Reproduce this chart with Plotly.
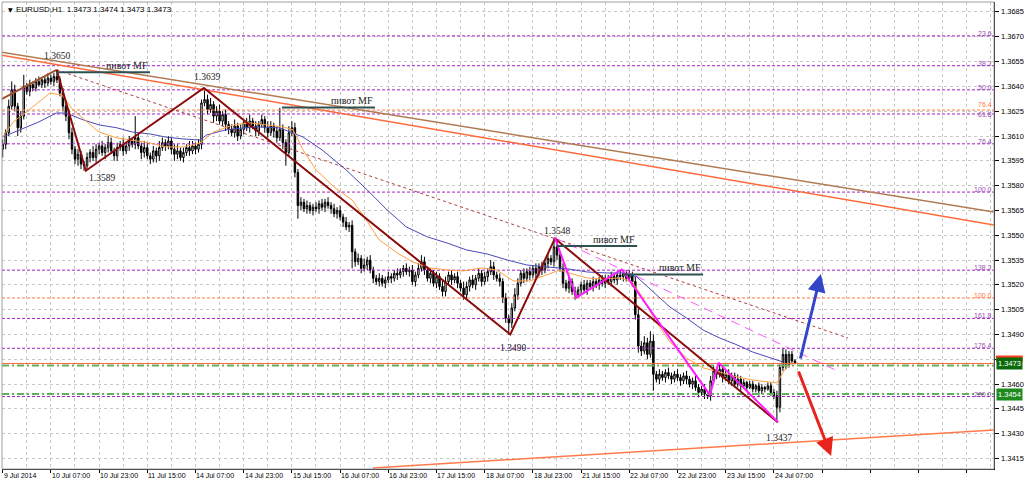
import plotly.graph_objects as go

# ---------------- data (EURUSD H1, prices in pips: 3605 -> 1.3605) ----------------
closes_pips = [
    3605, 3612, 3628, 3638, 3628, 3615, 3622, 3640, 3637, 3641, 3639, 3643, 3641, 3644, 3642, 3645,
    3643, 3646, 3644, 3636, 3628, 3622, 3612, 3602, 3596, 3599, 3593, 3592, 3597, 3600, 3597, 3602,
    3604, 3600, 3603, 3606, 3601, 3598, 3603, 3605, 3601, 3604, 3607, 3605, 3609, 3604, 3600, 3603,
    3598, 3596, 3601, 3598, 3603, 3606, 3604, 3607, 3602, 3599, 3601, 3597, 3600, 3603, 3601, 3604,
    3602, 3605, 3630, 3632, 3626, 3629, 3622, 3625, 3619, 3623, 3617, 3614, 3612, 3616, 3610, 3614,
    3618, 3615, 3619, 3616, 3613, 3617, 3620, 3615, 3612, 3616, 3613, 3609, 3614, 3606, 3600, 3612,
    3615, 3588, 3568, 3570, 3566, 3568, 3565, 3567, 3566, 3569, 3567, 3570, 3568, 3566, 3563, 3565,
    3561, 3558, 3555, 3556, 3540, 3534, 3536, 3530, 3532, 3535, 3529, 3524, 3522, 3524, 3521, 3523,
    3525, 3524, 3527, 3526, 3528, 3530, 3528, 3529, 3522, 3526, 3530, 3534, 3529, 3524, 3527, 3521,
    3525, 3519, 3516, 3522, 3526, 3523, 3525, 3521, 3518, 3514, 3519, 3523, 3520, 3524, 3527, 3522,
    3525, 3528, 3531, 3526, 3524, 3522, 3512, 3500, 3497, 3506, 3514, 3521, 3527, 3524, 3528, 3526,
    3530, 3527, 3531, 3529, 3533, 3536, 3534, 3543, 3538, 3530, 3521, 3518, 3522, 3516, 3514, 3517,
    3520, 3517, 3521, 3519, 3522, 3520, 3523, 3521, 3524, 3522, 3525, 3523, 3526, 3525, 3527, 3524,
    3526, 3522, 3502, 3483, 3480, 3485, 3478, 3486, 3466, 3463, 3466, 3464, 3467, 3465, 3463, 3466,
    3464, 3462, 3465, 3463, 3460, 3462, 3458, 3455, 3457, 3454, 3453, 3462, 3468, 3466, 3469, 3464,
    3466, 3462, 3465, 3460, 3463, 3459, 3461, 3458, 3460, 3457, 3459, 3456, 3458, 3457, 3459, 3455,
    3453, 3446, 3470, 3478, 3472, 3478, 3474, 3473,
]
first_open_pips = 3602
up_wick = [
    3, 2, 4, 5, 3, 2, 3, 7, 2, 3, 2, 2, 3, 1, 2, 3,
    2, 2, 4, 2, 3, 2, 4, 3, 2, 3, 2, 2, 3, 2, 4, 3,
    2, 3, 2, 4, 3, 2, 3, 2, 4, 2, 3, 2, 13, 3, 2, 4,
    3, 2, 3, 2, 4, 3, 2, 3, 2, 3, 4, 2, 3, 2, 4, 3,
    2, 3, 2, 7, 3, 4, 2, 3, 4, 2, 3, 2, 3, 4, 2, 3,
    2, 3, 4, 2, 3, 2, 3, 2, 4, 3, 2, 3, 13, 3, 2, 4,
    4, 3, 2, 3, 2, 3, 2, 2, 3, 2, 3, 2, 3, 2, 3, 2,
    3, 2, 3, 2, 3, 2, 3, 2, 4, 2, 3, 2, 2, 3, 2, 2,
    3, 2, 2, 3, 2, 2, 3, 2, 3, 2, 3, 4, 3, 2, 3, 2,
    3, 2, 4, 3, 2, 3, 2, 3, 2, 4, 3, 2, 3, 2, 3, 2,
    3, 2, 4, 3, 2, 3, 2, 3, 2, 3, 4, 3, 2, 3, 2, 3,
    2, 3, 2, 3, 2, 3, 2, 5, 3, 2, 3, 2, 3, 2, 3, 2,
    2, 3, 2, 2, 3, 2, 2, 3, 2, 2, 3, 2, 2, 3, 2, 2,
    3, 2, 3, 4, 3, 4, 3, 6, 4, 2, 3, 2, 2, 3, 2, 2,
    3, 2, 2, 3, 2, 2, 3, 2, 2, 3, 2, 3, 3, 2, 3, 2,
    2, 3, 2, 2, 3, 2, 2, 1, 2, 2, 1, 2, 2, 1, 2, 2,
    2, 3, 2, 4, 3, 2, 2, 1,
]
low_wick = [
    5, 3, 2, 2, 3, 5, 3, 2, 2, 3, 2, 2, 1, 2, 3, 2,
    2, 3, 2, 2, 3, 3, 4, 3, 3, 4, 3, 3, 2, 3, 2, 3,
    3, 2, 4, 3, 2, 3, 3, 2, 3, 2, 3, 2, 3, 2, 4, 3,
    2, 3, 2, 4, 3, 2, 3, 2, 3, 4, 3, 2, 3, 2, 3, 2,
    3, 2, 3, 2, 3, 2, 4, 3, 2, 3, 4, 3, 2, 3, 3, 2,
    3, 2, 3, 2, 3, 3, 2, 3, 3, 2, 4, 3, 2, 4, 8, 2,
    2, 3, 8, 3, 2, 3, 2, 3, 2, 3, 2, 3, 2, 3, 2, 3,
    2, 3, 2, 3, 10, 3, 2, 3, 2, 3, 2, 3, 2, 3, 2, 3,
    2, 3, 2, 3, 2, 3, 2, 3, 2, 3, 2, 2, 3, 2, 3, 2,
    3, 2, 3, 3, 2, 3, 2, 3, 2, 3, 2, 3, 2, 3, 2, 3,
    2, 3, 2, 3, 2, 3, 3, 3, 7, 3, 2, 3, 2, 3, 2, 3,
    2, 3, 2, 3, 2, 3, 2, 3, 3, 2, 3, 2, 3, 2, 3, 2,
    3, 2, 3, 2, 3, 2, 3, 2, 3, 2, 3, 2, 3, 2, 3, 2,
    2, 3, 3, 4, 3, 2, 3, 2, 10, 2, 3, 2, 3, 2, 3, 2,
    2, 3, 2, 3, 2, 3, 2, 3, 2, 3, 2, 3, 2, 3, 2, 3,
    2, 2, 3, 2, 2, 3, 2, 2, 1, 2, 2, 3, 2, 2, 1, 2,
    2, 9, 3, 2, 3, 2, 2, 1,
]

# moving averages (bar index, pips)
ma_fast_idx = [0, 3.5, 10, 15.7, 19.6, 23.4, 28, 32, 38, 43, 49, 54, 60, 65.5, 70, 76.5, 82, 87.6, 93,
               96.4, 99.7, 104, 110, 116, 120, 125, 131, 136, 142, 147.5, 153, 158.5, 164, 169.5, 175,
               180.6, 185, 188, 194, 199, 205, 209, 212.5, 216, 221.5, 227, 232.5, 238, 243.8, 249, 257,
               259.5, 262.5]
ma_fast_pips = [3609.4, 3618.5, 3627.6, 3636.0, 3634.8, 3625.7, 3618.5, 3612.4, 3608.8, 3607.6, 3605.8,
                3603.4, 3603.4, 3605.8, 3612.4, 3616.7, 3617.9, 3616.7, 3615.5, 3613.7, 3601.6, 3589.5,
                3579.2, 3571.3, 3561.1, 3547.2, 3539.3, 3533.9, 3530.2, 3529.0, 3528.4, 3530.2, 3529.0,
                3522.4, 3522.4, 3526.1, 3529.0, 3527.2, 3524.2, 3523.6, 3524.2, 3521.8, 3512.1, 3500.1,
                3485.5, 3475.8, 3469.8, 3467.3, 3464.3, 3462.5, 3460.7, 3468.5, 3473.4]
ma_slow_idx = [0, 5.7, 12, 17.8, 21, 26.8, 32, 38, 43, 49, 54, 60, 65.5, 67.7, 74, 80, 85.4, 92, 99.7,
               106, 114, 121, 127.6, 134, 141, 147.5, 154, 160.8, 167.4, 174, 180.7, 188, 194, 200.6,
               206, 210.5, 216, 221.5, 227, 232.5, 238, 243.8, 249, 254.7, 259]
ma_slow_pips = [3609.4, 3613.7, 3618.5, 3623.9, 3623.9, 3619.7, 3616.7, 3614.9, 3612.4, 3611.2, 3609.4,
                3608.2, 3607.6, 3610.6, 3613.7, 3614.9, 3615.5, 3614.9, 3609.4, 3601.6, 3589.5, 3577.4,
                3565.3, 3555.0, 3549.0, 3545.3, 3541.1, 3538.7, 3535.1, 3532.0, 3530.8, 3529.6, 3527.8,
                3527.2, 3527.2, 3524.8, 3515.7, 3506.6, 3500.0, 3492.7, 3487.9, 3483.7, 3479.4, 3475.8,
                3473.4]

tick_labels = ["9 Jul 2014", "10 Jul 07:00", "10 Jul 23:00", "11 Jul 15:00", "14 Jul 07:00",
               "14 Jul 23:00", "15 Jul 15:00", "16 Jul 07:00", "16 Jul 23:00", "17 Jul 15:00",
               "18 Jul 07:00", "18 Jul 23:00", "21 Jul 15:00", "22 Jul 07:00", "22 Jul 23:00",
               "23 Jul 15:00", "24 Jul 07:00"]
tick_idx = [16 * k for k in range(len(tick_labels))]

price_ticks = ["1.3685", "1.3670", "1.3655", "1.3640", "1.3625", "1.3610", "1.3595", "1.3580",
               "1.3565", "1.3550", "1.3535", "1.3520", "1.3505", "1.3490", "1.3460", "1.3445",
               "1.3430", "1.3415"]

fib_levels = [23.6, 38.2, 50.0, 61.8, 76.4, 100.0, 138.2, 161.8, 176.4, 200.0]
fib_zero, fib_hundred = 1.36997, 1.35761
fib2_levels = ["76.4", "100.0"]
fib2_prices = [1.36257, 1.35121]

zigzag_idx = [17.9, 27.6, 66.8, 168.5, 183.3, 257.3]
zigzag_price = [1.3650, 1.3589, 1.3639, 1.3490, 1.3548, 1.3437]
zigzag_text = ["1.3650", "1.3589", "1.3639", "1.3490", "1.3548", "1.3437"]
first_leg_idx = [-0.9, 17.9]
first_leg_price = [1.36318, 1.3650]

magenta_idx = [183.3, 190.5, 205.5, 234.8, 237.6, 257.4]
magenta_price = [1.35484, 1.35124, 1.35293, 1.34534, 1.34730, 1.34370]
magenta_dash_idx = [183.3, 277.9]
magenta_dash_price = [1.35484, 1.34673]
red_dot_idx = [17.9, 280.6]
red_dot_price = [1.3650, 1.34879]

upper_brown_idx = [-0.9, 329.1]
upper_brown_price = [1.36608, 1.35641]
upper_orange_idx = [-0.9, 329.1]
upper_orange_price = [1.36590, 1.35562]
lower_orange_idx = [122.9, 329.1]
lower_orange_price = [1.34093, 1.34323]

pivot_start = [17.9, 92.7, 184.0, 205.9]
pivot_end = [48.9, 123.6, 210.6, 232.5]
pivot_price = [1.36485, 1.36273, 1.35435, 1.35263]

bid_price = 1.34725
green_levels = [1.34712, 1.34540]
blue_arrow = [264.7, 1.34746, 271.6, 1.35266]   # tail idx, tail price, head idx, head price
red_arrow = [264.0, 1.34685, 275.0, 1.34166]

# ---------------- build ----------------
n = len(closes_pips)
bars = list(range(n))
close = [1 + c / 10000 for c in closes_pips]
open_ = [1 + first_open_pips / 10000] + close[:-1]
high = [max(o, c) + w / 10000 for o, c, w in zip(open_, close, up_wick)]
low = [min(o, c) - w / 10000 for o, c, w in zip(open_, close, low_wick)]

X0, X1 = -0.23, 329.07
Y0, Y1 = 1.34087, 1.36910

fig = go.Figure()


def seg(xs, ys, color, width=1.0, dash="solid"):
    fig.add_trace(go.Scatter(x=xs, y=ys, mode="lines", hoverinfo="skip",
                             line=dict(color=color, width=width, dash=dash)))


FIB_COL = "#A61FC4"
for lvl in fib_levels:
    p = fib_zero - lvl / 100 * (fib_zero - fib_hundred)
    seg([X0, X1], [p, p], FIB_COL, 1, "3px,2px")
for p in fib2_prices:
    seg([X0, X1], [p, p], "#FF7A3C", 1, "3px,2px")

for p in green_levels:
    seg([X0, X1], [p, p], "#5DB35D", 2, "7px,3px,2px,3px")
seg([X0, X1], [bid_price, bid_price], "#FF6633", 1)

seg(upper_brown_idx, upper_brown_price, "#B07A52", 1.5)
seg(upper_orange_idx, upper_orange_price, "#FF6A3A", 1.5)
seg(lower_orange_idx, lower_orange_price, "#FF7A4A", 1.5)
seg(red_dot_idx, red_dot_price, "#B23A3A", 1, "3px,3px")
seg(magenta_dash_idx, magenta_dash_price, "#FF55FF", 1, "9px,6px")

seg(ma_slow_idx, [1 + v / 10000 for v in ma_slow_pips], "#4A4AB8", 1)
seg(ma_fast_idx, [1 + v / 10000 for v in ma_fast_pips], "#FFA040", 1)

fig.add_trace(go.Candlestick(
    x=bars, open=open_, high=high, low=low, close=close, hoverinfo="skip",
    increasing=dict(line=dict(color="#000000", width=1), fillcolor="#FFFFFF"),
    decreasing=dict(line=dict(color="#000000", width=1), fillcolor="#000000"),
    whiskerwidth=0,
))

seg(first_leg_idx, first_leg_price, "#A0522D", 2)
seg(zigzag_idx, zigzag_price, "#8B0A0A", 2)
seg(magenta_idx, magenta_price, "#FF1AFF", 2)

for a, b, p in zip(pivot_start, pivot_end, pivot_price):
    seg([a, b], [p, p], "#2F5050", 2)

annotations = []
for lvl in fib_levels:
    p = fib_zero - lvl / 100 * (fib_zero - fib_hundred)
    annotations.append(dict(x=1, xref="paper", y=p, yref="y", text=f"{lvl:.1f}", showarrow=False,
                            xanchor="right", yanchor="bottom", xshift=-1,
                            yshift=-5 if lvl == 61.8 else -2, borderpad=0,
                            font=dict(family="Liberation Sans", size=7, color="#9A4DB5")))
for t, p in zip(fib2_levels, fib2_prices):
    annotations.append(dict(x=1, xref="paper", y=p, yref="y", text=t, showarrow=False,
                            xanchor="right", yanchor="bottom", xshift=-1,
                            yshift=1 if t == "76.4" else -2, borderpad=0,
                            font=dict(family="Liberation Sans", size=7, color="#FF7A3C")))

zz_shift = [(0, 14), (16, -7), (3, 11), (3, -13), (2, 8), (1, -16)]
for xi, p, t, (dx, dy) in zip(zigzag_idx, zigzag_price, zigzag_text, zz_shift):
    annotations.append(dict(x=xi, y=p, text=t, showarrow=False, xanchor="center", yanchor="middle",
                            xshift=dx, yshift=dy,
                            font=dict(family="Liberation Serif", size=9.5, color="#222222")))

for b, p in zip(pivot_end, pivot_price):
    annotations.append(dict(x=b, y=p, text="пивот MF", showarrow=False, xanchor="right",
                            yanchor="bottom", yshift=-1,
                            font=dict(family="Liberation Serif", size=10, color="#222222")))

annotations.append(dict(x=blue_arrow[2], y=blue_arrow[3], ax=blue_arrow[0], ay=blue_arrow[1],
                        xref="x", yref="y", axref="x", ayref="y", showarrow=True, text="",
                        arrowhead=2, arrowsize=1.2, arrowwidth=3, arrowcolor="#3346C8"))
annotations.append(dict(x=red_arrow[2], y=red_arrow[3], ax=red_arrow[0], ay=red_arrow[1],
                        xref="x", yref="y", axref="x", ayref="y", showarrow=True, text="",
                        arrowhead=2, arrowsize=1.2, arrowwidth=3, arrowcolor="#E8231E"))

annotations.append(dict(x=0, xref="paper", y=1, yref="paper", text="▼", showarrow=False,
                        xanchor="left", yanchor="top", xshift=4, yshift=-2,
                        font=dict(family="DejaVu Sans", size=6, color="#000000")))
annotations.append(dict(x=0, xref="paper", y=1, yref="paper",
                        text="EURUSD,H1  1.3473 1.3474 1.3473 1.3473", showarrow=False,
                        xanchor="left", yanchor="top", xshift=12, yshift=-1,
                        font=dict(family="Liberation Sans", size=8, color="#000000")))

# price labels on the right axis (1.3475 is hidden under the bid boxes)
for t in price_ticks:
    annotations.append(dict(x=1, xref="paper", y=float(t), yref="y", text=t, showarrow=False,
                            xanchor="left", yanchor="middle", xshift=5,
                            font=dict(family="Liberation Sans", size=7.5, color="#000000")))

annotations.append(dict(x=1, xref="paper", y=bid_price, yref="y", text="1.3473",
                        showarrow=False, xanchor="left", yanchor="middle", xshift=2,
                        bgcolor="#0B6B0B", borderpad=1,
                        font=dict(family="Liberation Sans", size=7.5, color="#FFFFFF")))
annotations.append(dict(x=1, xref="paper", y=green_levels[1], yref="y", text="1.3454",
                        showarrow=False, xanchor="left", yanchor="middle", xshift=2,
                        bgcolor="#1E8A1E", borderpad=1,
                        font=dict(family="Liberation Sans", size=7.5, color="#FFFFFF")))

for xi, t in zip(tick_idx, tick_labels):
    annotations.append(dict(x=xi, xref="x", y=0, yref="paper", text=t, showarrow=False,
                            xanchor="left", yanchor="middle", xshift=-1, yshift=-6,
                            font=dict(family="Liberation Sans", size=7, color="#000000")))

shapes = [
    dict(type="rect", xref="paper", yref="paper", x0=0, x1=1, y0=0, y1=1,
         line=dict(color="#A0A0A0", width=1), layer="above"),
    # red bid-price strip peeking out above the green box
    dict(type="rect", xref="paper", yref="y", x0=1.002, x1=1.029, y0=bid_price + 0.0001,
         y1=bid_price + 0.00048, fillcolor="#FF3C1E", line=dict(width=0), layer="above"),
]

fig.update_layout(
    width=1024, height=482, autosize=False,
    margin=dict(l=2, r=30, t=2, b=13, pad=0),
    paper_bgcolor="#FFFFFF", plot_bgcolor="#FFFFFF",
    showlegend=False, hovermode=False,
    annotations=annotations, shapes=shapes,
    xaxis=dict(range=[X0, X1], rangeslider=dict(visible=False), showticklabels=False,
               tickmode="linear", tick0=0, dtick=16, ticks="outside", ticklen=3,
               tickcolor="#000000", showline=True, linecolor="#000000", linewidth=1,
               showgrid=True, gridcolor="#C8C8C8", griddash="3px,3px", gridwidth=1,
               minor=dict(tickmode="linear", tick0=8, dtick=16, showgrid=True,
                          gridcolor="#C8C8C8", griddash="3px,3px", ticks=""),
               zeroline=False, fixedrange=True),
    yaxis=dict(range=[Y0, Y1], side="right", tickmode="linear", tick0=1.3415, dtick=0.0015,
               showticklabels=False, ticks="outside", ticklen=4, tickcolor="#000000",
               showline=True, linecolor="#000000", linewidth=1,
               showgrid=True, gridcolor="#C8C8C8", griddash="3px,3px", gridwidth=1,
               zeroline=False, fixedrange=True),
)

fig.write_html("out.html", config={"displayModeBar": False, "staticPlot": True},
               post_script="document.body.style.margin='0';document.body.style.overflow='hidden';")
